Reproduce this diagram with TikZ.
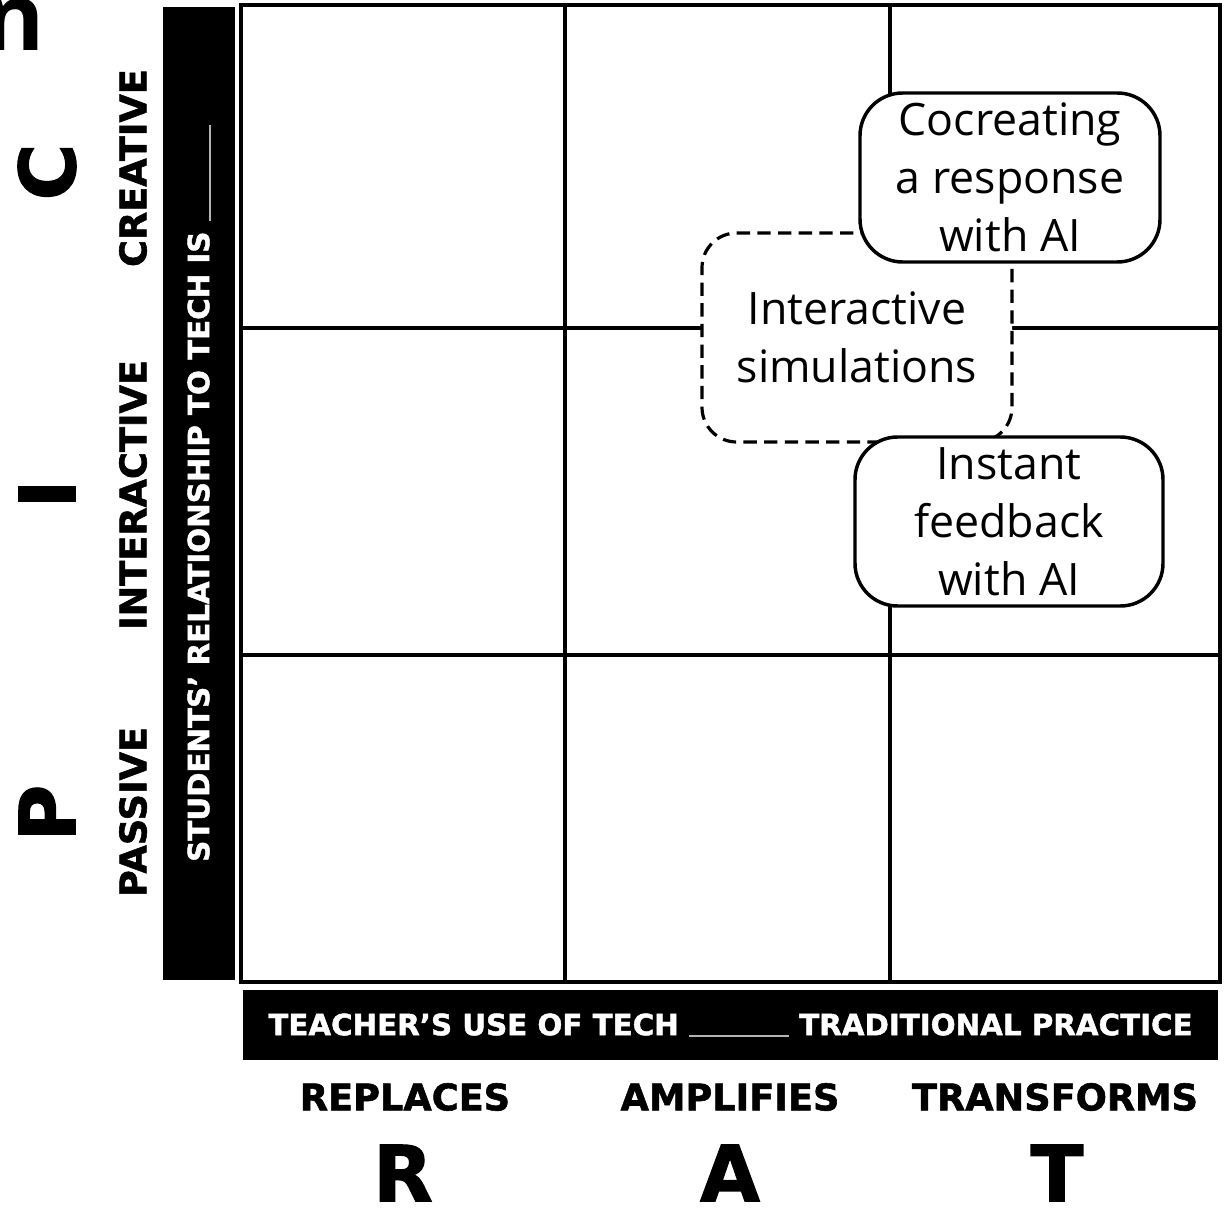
\documentclass[tikz,border=0pt]{standalone}
\usepackage{fontspec}
\setmainfont{Open Sans}
\newfontfamily\heavyfont{DejaVu Sans}[BoldFeatures={FakeBold=1.5}]
\usetikzlibrary{positioning}

\tikzset{
	cell/.style={line width=3pt},
	idea/.style={draw, line width=2.6pt, fill=white, rounded corners=32pt, align=center,
		inner sep=0pt, font=\fontsize{33.5}{43.5}\selectfont},
	ideadashed/.style={idea, line width=2.4pt, dash pattern=on 10pt off 5.5pt, rounded corners=26pt},
	levellabel/.style={font=\heavyfont\bfseries\fontsize{27.5}{30}\selectfont},
	bigletter/.style={font=\heavyfont\bfseries\fontsize{58}{58}\selectfont},
	bar/.style={fill=black, text=white, inner sep=0pt, font=\heavyfont\bfseries\fontsize{22}{25}\selectfont},
}
\newcommand{\blankline}[1]{\textcolor{white!70!black}{\rule[-1pt]{#1}{1.5pt}}}

\begin{document}
\begin{tikzpicture}[x=0.75pt, y=-0.75pt]
	\clip (0,0) rectangle (1232,1209);
	
	% Rest eines Titels
	\node[font=\bfseries\fontsize{70}{70}\selectfont, anchor=base east] (cutoff) at (50,51) {n};
	
	% Balken
	\node[bar, rotate=90, minimum width=729.75pt, minimum height=54pt] (studentbar) at (199,493.5)
		{STUDENTS’ RELATIONSHIP TO TECH IS \blankline{72pt}};
	\node[bar, minimum width=731.25pt, minimum height=52.5pt] (teacherbar) at (730.5,1025)
		{TEACHER’S USE OF TECH \blankline{75pt} TRADITIONAL PRACTICE};
	
	% Raster
	\draw[cell] (241,5) rectangle (1220,982);
	\foreach \x in {565,890} {
		\draw[cell] (\x,5) -- (\x,982);
	}
	\foreach \y in {328,655} {
		\draw[cell] (241,\y) -- (1220,\y);
	}
	
	% Beispiele
	\node[ideadashed, minimum width=232.5pt, minimum height=156.75pt] (simulations) at (857,337.5)
		{Interactive\\simulations};
	\node[idea, minimum width=225pt, minimum height=126.75pt] (cocreate) at (1010,177.5)
		{Cocreating\\a response\\with AI};
	\node[idea, minimum width=231pt, minimum height=126.75pt] (feedback) at (1009,521.5)
		{Instant\\feedback\\with AI};
	
	% Achsenbeschriftung y
	\node[levellabel, rotate=90] (creative) at (133,168) {CREATIVE};
	\node[levellabel, rotate=90] (interactive) at (133,495) {INTERACTIVE};
	\node[levellabel, rotate=90] (passive) at (133,812) {PASSIVE};
	\node[bigletter, rotate=90] (bigc) at (47,172) {C};
	\node[bigletter, rotate=90] (bigi) at (47,494) {I};
	\node[bigletter, rotate=90] (bigp) at (47,813) {P};
	
	% Achsenbeschriftung x
	\node[levellabel] (replaces) at (405,1097) {REPLACES};
	\node[levellabel] (amplifies) at (730,1097) {AMPLIFIES};
	\node[levellabel] (transforms) at (1055,1097) {TRANSFORMS};
	\node[bigletter] (bigr) at (403,1173) {R};
	\node[bigletter] (biga) at (730,1173) {A};
	\node[bigletter] (bigt) at (1057,1173) {T};
\end{tikzpicture}
\end{document}
